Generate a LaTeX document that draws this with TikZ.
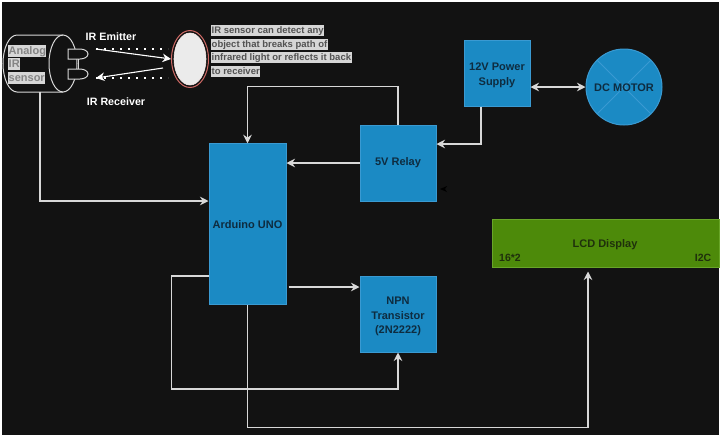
\documentclass[tikz,border=0pt]{standalone}
\usepackage{fontspec}
\setmainfont{Liberation Sans}
\usetikzlibrary{arrows.meta,shapes.geometric}
\definecolor{pagedark}{HTML}{121212}
\definecolor{boxblue}{HTML}{1B8AC4}
\definecolor{boxedge}{HTML}{3A9AD2}
\definecolor{boxtext}{HTML}{0E2C40}
\definecolor{lcdgreen}{HTML}{4D8A0A}
\definecolor{lcdedge}{HTML}{68A528}
\definecolor{lcdtext}{HTML}{1F300C}
\definecolor{wirecol}{HTML}{D8D8D8}
\definecolor{hilite}{HTML}{D6D6D6}
\definecolor{targetred}{HTML}{CF6A66}
\def\blockdown{\rule{0pt}{12.5pt}}
\tikzset{
  block/.style={draw=boxedge, fill=boxblue, line width=1pt, inner sep=0pt, align=center,
    text=boxtext, font=\fontsize{11}{14.3}\selectfont\bfseries},
  wire/.style={draw=wirecol, line width=1.1pt, -{Stealth[length=8.5pt,width=8.5pt]}, color=wirecol},
  outline/.style={draw=wirecol, line width=1pt},
  whitelabel/.style={text=white, inner sep=0pt, font=\fontsize{10.7}{13}\selectfont\bfseries},
  lcdlabel/.style={text=lcdtext, inner sep=0pt, font=\fontsize{10.5}{13}\selectfont\bfseries},
  notetext/.style={anchor=west, fill=hilite, text=black!68, inner xsep=0.5pt, inner ysep=0pt,
    text height=8.5pt, text depth=2.5pt, font=\fontsize{9.5}{12}\selectfont\bfseries},
  sensortext/.style={anchor=west, fill=hilite, text=black!48, inner xsep=0.5pt, inner ysep=0pt,
    text height=9.5pt, text depth=3pt, font=\fontsize{11}{13}\selectfont\bfseries},
  irdots/.style={draw=white, line width=1.8pt, dash pattern=on 1.8pt off 6.2pt},
}
\begin{document}
\begin{tikzpicture}[x=1pt,y=-1pt]
\useasboundingbox (0,0) rectangle (724,440);
\fill[white] (0,0) rectangle (724,440);
\fill[pagedark] (2,2) rectangle (719,435);

\draw[outline] (63,35) -- (17,35) arc[start angle=90, end angle=270, x radius=14, y radius=-28.5] -- (63,92);
\draw[outline] (63,63.5) ellipse[x radius=14, y radius=28.5];
\coordinate (sensorout) at (40,92);
\draw[outline, fill=pagedark] (68,49) -- (80,49) arc[start angle=-90, end angle=90, x radius=8, y radius=5] -- (68,59) -- cycle;
\draw[outline, fill=pagedark] (68,69) -- (80,69) arc[start angle=-90, end angle=90, x radius=8, y radius=5] -- (68,79) -- cycle;
\draw[outline] (78,59) -- (78,69);
\node[sensortext] (analog) at (8,51) {Analog};
\node[sensortext] (irword) at (8,64) {IR};
\node[sensortext] (sensorword) at (8,78) {sensor};

\node[whitelabel] (emitter) at (111,36.5) {IR Emitter};
\node[whitelabel] (receiver) at (116,101.5) {IR Receiver};

\node[draw=targetred, fill=pagedark, line width=1pt, ellipse, minimum width=37pt, minimum height=57pt, inner sep=0pt] (target) at (190,59) {};
\node[draw=white!85!targetred, fill=white!92!black, line width=0.6pt, ellipse, minimum width=32pt, minimum height=52pt, inner sep=0pt] (targetface) at (190,59) {};

\coordinate (txout) at (96,49);
\coordinate (rxback) at (163,68);
\coordinate (rxin) at (96,78);
\draw[irdots] (txout) -- ++(72,0);
\draw[irdots] (rxin) -- ++(72,0);
\draw[wire, color=white] (txout) -- (target.west);
\draw[wire, color=white] (rxback) -- (rxin);

\node[notetext] (noteone) at (211,30) {IR sensor can detect any};
\node[notetext] (notetwo) at (211,44) {object that breaks path of};
\node[notetext] (notethree) at (211,57.5) {infrared light or reflects it back};
\node[notetext] (notefour) at (211,71.5) {to receiver};

\node[block, minimum width=77pt, minimum height=160.5pt] (ard) at (247.5,224) {\rule{0pt}{10pt}Arduino UNO};
\node[block, minimum width=76pt, minimum height=76pt] (relay) at (398,163) {5V Relay};
\node[block, minimum width=66pt, minimum height=66pt] (psu) at (497,73) {\blockdown 12V Power\\Supply};
\node[block, minimum width=76pt, minimum height=76pt] (npn) at (398,314) {\blockdown NPN\\Transistor\\(2N2222)};
\node[block, circle, minimum size=76pt] (motor) at (624,87) {};
\draw[draw=boxedge, line width=1pt] (motor.45) -- (motor.225);
\draw[draw=boxedge, line width=1pt] (motor.135) -- (motor.315);
\node[text=boxtext, inner sep=0pt, font=\fontsize{11}{14}\selectfont\bfseries] (motortext) at ([yshift=-1pt]motor) {DC MOTOR};

\node[draw=lcdedge, fill=lcdgreen, line width=1pt, minimum width=227pt, minimum height=48pt, inner sep=0pt] (lcd) at (605.5,243) {};
\node[lcdlabel, font=\fontsize{11}{13}\selectfont\bfseries] (lcdname) at (605,244.5) {LCD Display};
\node[lcdlabel] (lcdrows) at (510,257.5) {16*2};
\node[lcdlabel] (lcdbus) at (703,257.5) {I2C};

\draw[wire] (sensorout) |- ([yshift=23pt]ard.west);
\draw[wire] (relay.north) -- ++(0,-38) -| (ard.north);
\draw[wire] (relay.west) -- (relay.west -| ard.east);
\draw[wire] ([xshift=-16pt]psu.south) |- ([yshift=19pt]relay.east);
\draw[wire, {Stealth[length=8.5pt,width=8.5pt]}-{Stealth[length=8.5pt,width=8.5pt]}] ([yshift=-14pt]psu.east) -- (motor.west);
\draw[wire] ([shift={(2pt,-63pt)}]ard.east) -- ([yshift=27pt]npn.west);
\draw[wire] ([yshift=-52pt]ard.west) -- ++(-37,0) -- ++(0,113) -| (npn.south);
\draw[wire] (ard.south) -- ++(0,123) -| ([shift={(-17.5pt,-4pt)}]lcd.south);

\fill[black] (440,189) -- (447,186) -- (445,189) -- (447,192) -- cycle;
\end{tikzpicture}
\end{document}
